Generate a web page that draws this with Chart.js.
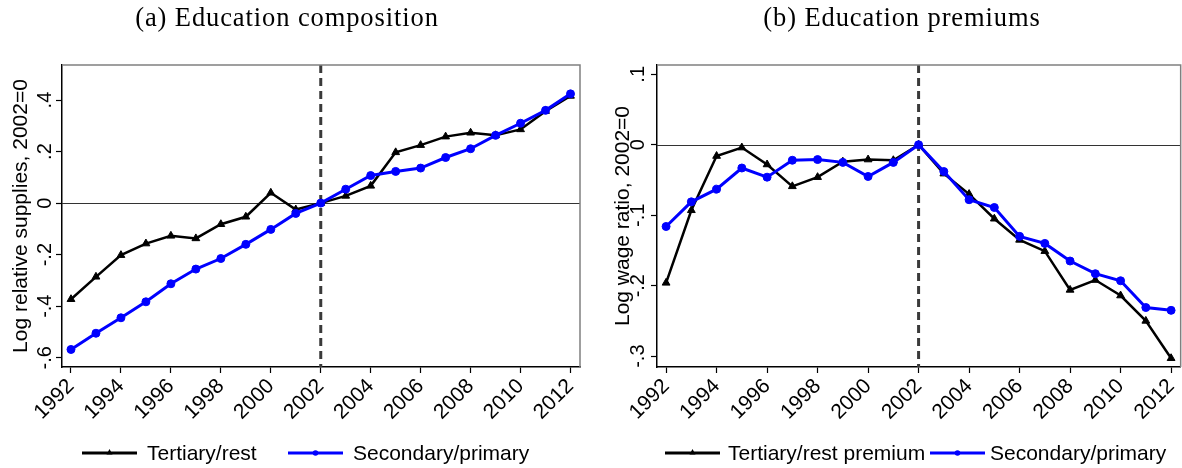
<!DOCTYPE html>
<html>
<head>
<meta charset="utf-8">
<script src="https://cdn.jsdelivr.net/npm/chart.js@4.4.1/dist/chart.umd.min.js"></script>
<style>
    body { margin: 0; background: #fff; width: 1182px; height: 468px; overflow: hidden; position: relative; font-family: "Liberation Sans", Arial, sans-serif; }
    .panel { position: absolute; top: 0; height: 468px; }
    .title { position: absolute; top: 4px; line-height: 1; font-family: "Liberation Serif", serif; font-size: 26.5px; letter-spacing: 0.9px; white-space: nowrap; transform: translateX(-50%); color: #000; }
    .leg-item { position: absolute; top: 441px; height: 24px; line-height: 24px; font-size: 21px; color: #000; white-space: nowrap; }
    .leg-swatch { position: absolute; top: 447px; }
</style>
</head>
<body>
<div class="panel" style="left:0;width:591px"><canvas id="supplyChart" width="591" height="468"></canvas></div>
<!-- a bit wider than the half so the plot box reaches the right edge; the overflow is clipped -->
<div class="panel" style="left:591px;width:599px"><canvas id="premiumChart" width="599" height="468"></canvas></div>
<div class="title" style="left:287px">(a) Education composition</div>
<div class="title" style="left:902px">(b) Education premiums</div>
<div id="legends"></div>

<script>
// Years on the x axis
const years = [1992, 1993, 1994, 1995, 1996, 1997, 1998, 1999, 2000, 2001, 2002,
               2003, 2004, 2005, 2006, 2007, 2008, 2009, 2010, 2011, 2012];
const xTickYears = [1992, 1994, 1996, 1998, 2000, 2002, 2004, 2006, 2008, 2010, 2012];
const breakYear = 2002;

// (a) Log relative supplies, 2002=0
const supplyTertiary = [-0.373, -0.286, -0.202, -0.157, -0.127, -0.137, -0.082, -0.053, 0.040, -0.025, 0,
                        0.028, 0.067, 0.197, 0.225, 0.258, 0.273, 0.263, 0.286, 0.357, 0.416];
const supplySecondary = [-0.568, -0.505, -0.445, -0.383, -0.313, -0.256, -0.215, -0.160, -0.102, -0.040, 0,
                         0.054, 0.107, 0.123, 0.136, 0.177, 0.211, 0.263, 0.310, 0.360, 0.424];
const supplyTicks = [-0.6, -0.4, -0.2, 0, 0.2, 0.4];
const supplyTickLabels = ['-.6', '-.4', '-.2', '0', '.2', '.4'];

// (b) Log wage ratio, 2002=0
const premiumTertiary = [-0.196, -0.093, -0.016, -0.004, -0.028, -0.059, -0.046, -0.024, -0.021, -0.022, 0,
                         -0.041, -0.070, -0.105, -0.135, -0.151, -0.206, -0.192, -0.214, -0.250, -0.303];
const premiumSecondary = [-0.116, -0.081, -0.063, -0.033, -0.046, -0.022, -0.021, -0.025, -0.045, -0.025, 0,
                          -0.038, -0.078, -0.089, -0.130, -0.140, -0.165, -0.183, -0.193, -0.231, -0.235];
const premiumTicks = [-0.3, -0.2, -0.1, 0, 0.1];
const premiumTickLabels = ['-.3', '-.2', '-.1', '0', '.1'];

const FONT = '"Liberation Sans", Arial, sans-serif';

// Zero line, dashed 2002 line, plot box and vertical y tick labels (Stata style)
const stataDecor = {
    id: 'stataDecor',
    beforeDatasetsDraw(chart, args, opts) {
        const { ctx, chartArea: a, scales: { x, y } } = chart;
        ctx.save();
        const y0 = Math.round(y.getPixelForValue(0)) + 0.5;
        ctx.strokeStyle = '#333';
        ctx.lineWidth = 1.2;
        ctx.beginPath();
        ctx.moveTo(a.left, y0);
        ctx.lineTo(a.right, y0);
        ctx.stroke();

        const xb = x.getPixelForValue(breakYear);
        ctx.strokeStyle = '#3a3a3a';
        ctx.lineWidth = 3;
        ctx.setLineDash([8, 5]);
        ctx.beginPath();
        ctx.moveTo(xb, a.top);
        ctx.lineTo(xb, a.bottom);
        ctx.stroke();
        ctx.restore();
    },
    afterDraw(chart, args, opts) {
        const { ctx, chartArea: a, scales: { y } } = chart;
        ctx.save();
        ctx.strokeStyle = '#808080';
        ctx.lineWidth = 1.5;
        ctx.beginPath();
        ctx.moveTo(a.left, a.top);
        ctx.lineTo(a.right, a.top);
        ctx.lineTo(a.right, a.bottom);
        ctx.stroke();

        ctx.fillStyle = '#000';
        ctx.font = '20px ' + FONT;
        ctx.textAlign = 'center';
        ctx.textBaseline = 'middle';
        opts.ticks.forEach((v, i) => {
            ctx.save();
            ctx.translate(a.left - opts.labelOffset, y.getPixelForValue(v));
            ctx.rotate(-Math.PI / 2);
            ctx.fillText(opts.labels[i], 0, 0);
            ctx.restore();
        });
        ctx.restore();
    }
};

function toPoints(values) {
    return years.map((yr, i) => ({ x: yr, y: values[i] }));
}

function buildPanel(canvasId, p) {
    const ctx = document.getElementById(canvasId).getContext('2d');
    return new Chart(ctx, {
        type: 'line',
        data: {
            datasets: [{
                label: p.labels[0],
                data: toPoints(p.tertiary),
                borderColor: '#000',
                backgroundColor: '#000',
                borderWidth: 2.5,
                pointStyle: 'triangle',
                pointRadius: 4.5,
                pointBorderWidth: 1,
                order: 1
            }, {
                label: p.labels[1],
                data: toPoints(p.secondary),
                borderColor: '#0000ff',
                backgroundColor: '#0000ff',
                borderWidth: 3,
                pointStyle: 'circle',
                pointRadius: 4,
                pointBorderWidth: 1,
                order: 0
            }]
        },
        options: {
            responsive: false,
            animation: false,
            layout: { padding: { top: 65, right: p.rightPad, bottom: 0, left: 0 } },
            plugins: {
                legend: { display: false },
                tooltip: { enabled: false },
                stataDecor: { ticks: p.yTicks, labels: p.yTickLabels, labelOffset: p.labelOffset }
            },
            scales: {
                x: {
                    type: 'linear',
                    min: 1991.64,
                    max: 2012.38,
                    afterBuildTicks: s => { s.ticks = xTickYears.map(v => ({ value: v })); },
                    afterFit: s => { s.height = 101; },
                    ticks: {
                        autoSkip: false,
                        minRotation: 45,
                        maxRotation: 45,
                        padding: 1,
                        color: '#000',
                        font: { family: FONT, size: 21 },
                        callback: v => String(v)
                    },
                    grid: { drawOnChartArea: false, tickLength: 6, tickColor: '#000', tickWidth: 1.2 },
                    border: { color: '#000', width: 1.5 }
                },
                y: {
                    type: 'linear',
                    min: p.yMin,
                    max: p.yMax,
                    afterBuildTicks: s => { s.ticks = p.yTicks.map(v => ({ value: v })); },
                    afterFit: s => { s.width = p.yWidth; },
                    ticks: { display: false },
                    grid: { drawOnChartArea: false, tickLength: 6, tickColor: '#000', tickWidth: 1.2 },
                    border: { color: '#000', width: 1.5 },
                    title: {
                        display: true,
                        text: p.yTitle,
                        color: '#000',
                        font: { family: FONT, size: 21 },
                        padding: { top: p.titlePad, bottom: 0 }
                    }
                }
            }
        },
        plugins: [stataDecor]
    });
}

// HTML legend built from the chart's datasets
function buildLegend(chart, slots) {
    const holder = document.getElementById('legends');
    chart.data.datasets.forEach((ds, i) => {
        const [swLeft, swWidth, textLeft] = slots[i];
        const sw = document.createElement('canvas');
        sw.width = swWidth;
        sw.height = 12;
        sw.className = 'leg-swatch';
        sw.style.left = swLeft + 'px';
        const c = sw.getContext('2d');
        c.strokeStyle = ds.borderColor;
        c.fillStyle = ds.borderColor;
        c.lineWidth = 3;
        c.beginPath();
        c.moveTo(0, 6);
        c.lineTo(swWidth, 6);
        c.stroke();
        const cx = swWidth / 2;
        c.beginPath();
        if (ds.pointStyle === 'triangle') {
            c.moveTo(cx, 2);
            c.lineTo(cx + 3, 7.5);
            c.lineTo(cx - 3, 7.5);
            c.closePath();
        } else {
            c.arc(cx, 6, 2.8, 0, Math.PI * 2);
        }
        c.fill();
        holder.appendChild(sw);

        const label = document.createElement('div');
        label.className = 'leg-item';
        label.style.left = textLeft + 'px';
        label.textContent = ds.label;
        holder.appendChild(label);
    });
}

document.addEventListener('DOMContentLoaded', () => {
    const supplyChart = buildPanel('supplyChart', {
        labels: ['Tertiary/rest', 'Secondary/primary'],
        tertiary: supplyTertiary,
        secondary: supplySecondary,
        yTicks: supplyTicks,
        yTickLabels: supplyTickLabels,
        yMin: -0.636,
        yMax: 0.536,
        yTitle: 'Log relative supplies, 2002=0',
        yWidth: 62,
        titlePad: 9,
        labelOffset: 17,
        rightPad: 11
    });

    const premiumChart = buildPanel('premiumChart', {
        labels: ['Tertiary/rest premium', 'Secondary/primary'],
        tertiary: premiumTertiary,
        secondary: premiumSecondary,
        yTicks: premiumTicks,
        yTickLabels: premiumTickLabels,
        yMin: -0.3154,
        yMax: 0.1132,
        yTitle: 'Log wage ratio, 2002=0',
        yWidth: 66,
        titlePad: 20,
        labelOffset: 19,
        rightPad: 0
    });

    buildLegend(supplyChart, [[82, 55, 147], [288, 55, 353]]);
    buildLegend(premiumChart, [[665, 55, 728], [930, 55, 990]]);
});
</script>
</body>
</html>
